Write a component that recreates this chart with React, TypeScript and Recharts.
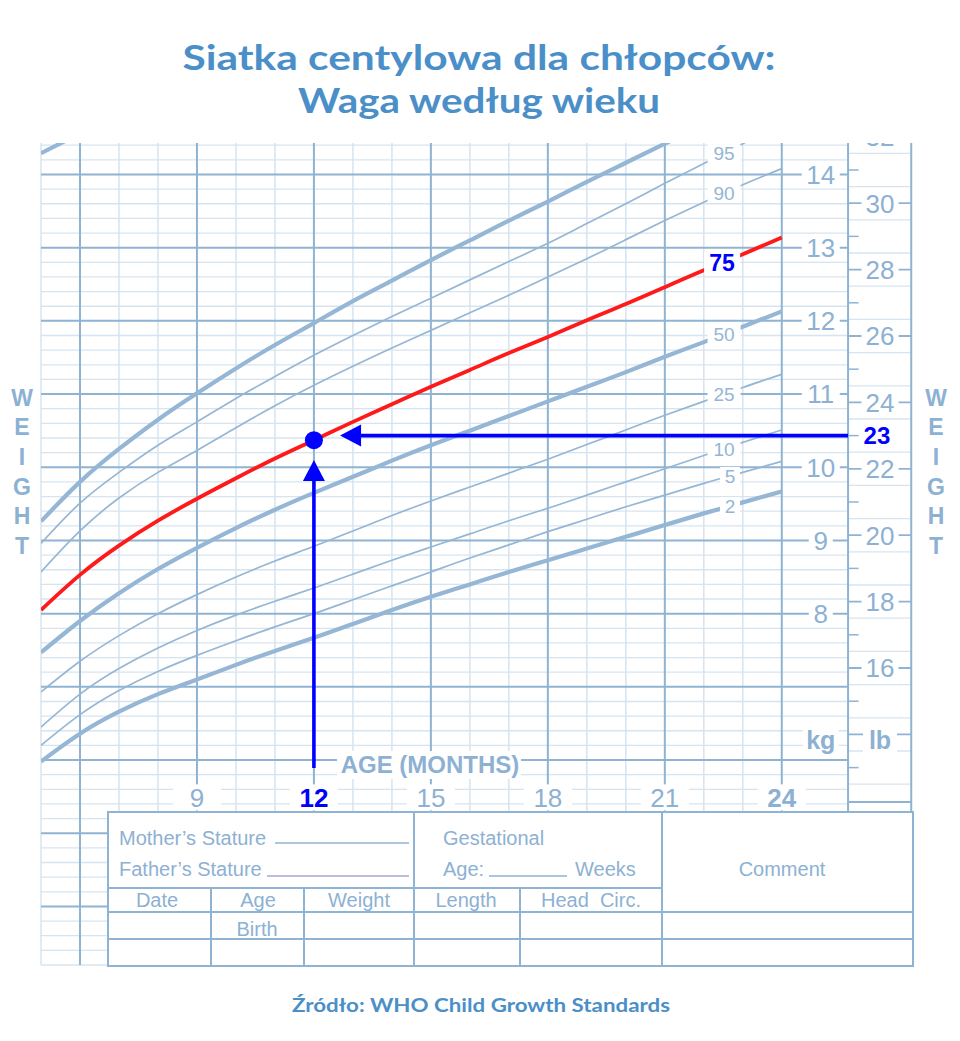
import React from 'react';
import { ComposedChart, Line, XAxis, YAxis, ReferenceLine, ReferenceDot } from 'recharts';

// ---------- data (kg) ----------
const months = [5, 6, 7, 8, 9, 10, 11, 12, 13, 14, 15, 16, 17, 18, 19, 20, 21, 22, 23, 24];
const p98 = [9.26, 9.8, 10.25, 10.65, 11.01, 11.35, 11.67, 11.97, 12.27, 12.55, 12.83, 13.1, 13.37, 13.63, 13.9, 14.16, 14.42, 14.68, 14.94, 15.2];
const p95 = [8.96, 9.51, 9.93, 10.3, 10.62, 10.94, 11.24, 11.53, 11.8, 12.06, 12.31, 12.56, 12.81, 13.06, 13.33, 13.6, 13.88, 14.15, 14.42, 14.69];
const p90 = [8.57, 9.13, 9.58, 9.93, 10.23, 10.54, 10.84, 11.12, 11.38, 11.63, 11.87, 12.11, 12.35, 12.6, 12.85, 13.11, 13.37, 13.62, 13.86, 14.08];
const p75 = [8.05, 8.53, 8.93, 9.27, 9.57, 9.85, 10.12, 10.37, 10.62, 10.86, 11.1, 11.33, 11.56, 11.78, 12.01, 12.23, 12.46, 12.69, 12.91, 13.14];
const p50 = [7.47, 7.9, 8.28, 8.61, 8.9, 9.17, 9.42, 9.65, 9.87, 10.09, 10.3, 10.5, 10.7, 10.9, 11.1, 11.3, 11.51, 11.71, 11.92, 12.13];
const p25 = [6.93, 7.35, 7.7, 8.0, 8.26, 8.5, 8.72, 8.92, 9.13, 9.34, 9.54, 9.73, 9.92, 10.11, 10.31, 10.51, 10.71, 10.9, 11.09, 11.27];
const p10 = [6.45, 6.9, 7.25, 7.53, 7.77, 7.98, 8.17, 8.35, 8.54, 8.73, 8.91, 9.09, 9.27, 9.44, 9.62, 9.8, 9.98, 10.16, 10.34, 10.51];
const p5 = [6.2, 6.62, 6.95, 7.21, 7.43, 7.63, 7.82, 8.0, 8.19, 8.38, 8.57, 8.76, 8.94, 9.12, 9.29, 9.46, 9.62, 9.78, 9.93, 10.08];
const p2 = [5.98, 6.36, 6.66, 6.9, 7.1, 7.3, 7.49, 7.67, 7.86, 8.05, 8.23, 8.4, 8.57, 8.73, 8.89, 9.05, 9.21, 9.37, 9.52, 9.67];
// fragment of the length curve visible in the top-left corner
const fragKg = [14.29, 14.56];

// measurement marked on the chart
const markAge = 12;
const markKg = 10.37;
const markLb = 23;

// tick labels
const xTickLabels = [9, 12, 15, 18, 21, 24];
const kgTickLabels = [8, 9, 10, 11, 12, 13, 14];
const lbTickLabels = [16, 18, 20, 22, 24, 26, 28, 30, 32];

// ---------- layout constants ----------
const X_MIN = 5;
const X_MAX = 27.34;
const Y_MIN = 3.2;
const Y_MAX = 14.43;
const X_LB = 25.7; // lb axis line
const X_KG_LABEL = 25.0;
const X_LB_LABEL = 26.52;
const Y_XLABEL = 5.49;
const Y_LB_BOTTOM = 5.426;
const Y_TABLE_TOP = 5.29;
const LB = 0.45359237;

const GRID_MAJOR = '#8fb3d2';
const GRID_MINOR = '#d6e4f0';
const CURVE = '#95b6d4';
const TEXT = '#8db1d3';
const TITLE = '#4b8fc8';
const BLUE = '#0000ff';
const RED = '#ff1a1a';
const SANS = '"Liberation Sans", Arial, Helvetica, sans-serif';
const ROUND = 'Lato, "Open Sans", sans-serif';

const data = months.map((m, i) => ({
  month: m,
  p98: p98[i], p95: p95[i], p90: p90[i], p75: p75[i], p50: p50[i],
  p25: p25[i], p10: p10[i], p5: p5[i], p2: p2[i],
  frag: i < fragKg.length ? fragKg[i] : undefined,
}));

// grid positions
const kgMajor: number[] = [];
for (let k = 4; k <= 14; k++) kgMajor.push(k);
const kgMinor: number[] = [];
for (let i = 16; i <= 72; i++) if (i % 5 !== 0) kgMinor.push(Math.round(i * 2) / 10);
const monthAll: number[] = [];
for (let m = 5; m <= 24; m++) monthAll.push(m);
const monthMajor = monthAll.filter((m) => m % 3 === 0);
const monthMinor = monthAll.filter((m) => m % 3 !== 0);
const lbHalf: number[] = [];
for (let v = 12.5; v <= 31.5; v += 1) lbHalf.push(v);
const lbOdd: number[] = [];
for (let v = 13; v <= 31; v += 2) lbOdd.push(v);
const lbEven: number[] = [];
for (let v = 14; v <= 30; v += 2) lbEven.push(v);

const valAt = (arr: number[], m: number) => {
  const i = Math.floor(m - months[0]);
  const f = m - months[0] - i;
  return arr[i] + (arr[i + 1] - arr[i]) * f;
};

const pctLabels = [
  { arr: p95, t: '95', m: 22.52 },
  { arr: p90, t: '90', m: 22.52 },
  { arr: p75, t: '75', m: 22.47, hi: true },
  { arr: p50, t: '50', m: 22.52 },
  { arr: p25, t: '25', m: 22.52 },
  { arr: p10, t: '10', m: 22.52 },
  { arr: p5, t: '5', m: 22.67 },
  { arr: p2, t: '2', m: 22.67 },
];

type BoxOpts = { w: number; h: number; fs: number; bold?: boolean; color: string };
const boxLabel = (text: string, o: BoxOpts) => (p: any) => (
  <g>
    <rect x={p.cx - o.w / 2} y={p.cy - o.h / 2} width={o.w} height={o.h} fill="#fff" />
    <text
      x={p.cx}
      y={p.cy}
      dy={o.fs * 0.36}
      textAnchor="middle"
      fontSize={o.fs}
      fontFamily={SANS}
      fontWeight={o.bold ? 700 : 400}
      fill={o.color}
    >
      {text}
    </text>
  </g>
);

const upArrow = (p: any) => (
  <polygon points={`${p.cx},${p.cy} ${p.cx - 11},${p.cy + 21} ${p.cx + 11},${p.cy + 21}`} fill={BLUE} />
);
const leftArrow = (p: any) => (
  <polygon points={`${p.cx},${p.cy} ${p.cx + 21},${p.cy - 11} ${p.cx + 21},${p.cy + 11}`} fill={BLUE} />
);
const blueDot = (p: any) => <circle cx={p.cx} cy={p.cy} r={9} fill={BLUE} />;

const seg = (x1: number, y1: number, x2: number, y2: number) => [
  { x: x1, y: y1 },
  { x: x2, y: y2 },
];

const weight = ['W', 'E', 'I', 'G', 'H', 'T'];
const weightY = [398, 427, 457, 487, 516, 546];

export default function App() {
  const gridZ = { zIndex: -50 } as any;
  const topZ = { zIndex: 2100 } as any;
  const lineCommon = { dot: false, activeDot: false, isAnimationActive: false, stroke: CURVE, connectNulls: false } as any;
  return (
    <div style={{ position: 'absolute', left: 0, top: 0, width: 960, height: 1041, background: '#fff', overflow: 'hidden' }}>
      <ComposedChart width={960} height={1041} data={data} margin={{ top: 143, right: 48, bottom: 76, left: 41 }}>
        <XAxis dataKey="month" type="number" domain={[X_MIN, X_MAX]} hide allowDataOverflow />
        <YAxis type="number" domain={[Y_MIN, Y_MAX]} hide allowDataOverflow />

        {/* minor kg grid */}
        {kgMinor.map((k) => (
          <ReferenceLine key={'hm' + k} segment={seg(X_MIN, k, X_LB, k)} stroke={GRID_MINOR} strokeWidth={1.3} {...gridZ} />
        ))}
        {/* minor month grid */}
        {monthMinor.map((m) => (
          <ReferenceLine key={'vm' + m} segment={seg(m, Y_MIN, m, Y_MAX)} stroke={GRID_MINOR} strokeWidth={1.5} {...gridZ} />
        ))}
        {/* lb column grid */}
        {lbHalf.map((v) => (
          <ReferenceLine key={'lh' + v} segment={seg(X_LB, v * LB, X_MAX, v * LB)} stroke={GRID_MINOR} strokeWidth={1.3} {...gridZ} />
        ))}
        {lbOdd.map((v) => (
          <ReferenceLine key={'lo' + v} segment={seg(X_LB, v * LB, X_LB + 0.27, v * LB)} stroke={GRID_MAJOR} strokeWidth={1.5} {...gridZ} />
        ))}
        {lbEven.map((v) => (
          <ReferenceLine key={'le' + v} segment={seg(X_LB, v * LB, X_MAX, v * LB)} stroke={GRID_MAJOR} strokeWidth={1.8} {...gridZ} />
        ))}
        {/* major kg grid */}
        {kgMajor.map((k) => (
          <ReferenceLine key={'hM' + k} segment={seg(X_MIN, k, X_LB, k)} stroke={GRID_MAJOR} strokeWidth={2} {...gridZ} />
        ))}
        {/* major month grid */}
        {monthMajor.map((m) => (
          <ReferenceLine key={'vM' + m} segment={seg(m, Y_MIN, m, Y_MAX)} stroke={GRID_MAJOR} strokeWidth={2} {...gridZ} />
        ))}
        {/* lb axis frame */}
        <ReferenceLine segment={seg(X_LB, Y_TABLE_TOP, X_LB, Y_MAX)} stroke={GRID_MAJOR} strokeWidth={2} {...gridZ} />
        <ReferenceLine segment={seg(X_MAX - 0.02, Y_TABLE_TOP, X_MAX - 0.02, Y_MAX)} stroke={GRID_MAJOR} strokeWidth={2} {...gridZ} />
        <ReferenceLine segment={seg(X_LB, Y_LB_BOTTOM, X_MAX, Y_LB_BOTTOM)} stroke={GRID_MAJOR} strokeWidth={2} {...gridZ} />

        {/* percentile curves */}
        <Line dataKey="frag" type="natural" strokeWidth={4.2} {...lineCommon} />
        <Line dataKey="p98" type="natural" strokeWidth={4.2} {...lineCommon} />
        <Line dataKey="p95" type="natural" strokeWidth={1.7} {...lineCommon} />
        <Line dataKey="p90" type="natural" strokeWidth={1.7} {...lineCommon} />
        <Line dataKey="p50" type="natural" strokeWidth={4.2} {...lineCommon} />
        <Line dataKey="p25" type="natural" strokeWidth={1.7} {...lineCommon} />
        <Line dataKey="p10" type="natural" strokeWidth={1.7} {...lineCommon} />
        <Line dataKey="p5" type="natural" strokeWidth={1.7} {...lineCommon} />
        <Line dataKey="p2" type="natural" strokeWidth={4.2} {...lineCommon} />
        <Line dataKey="p75" type="natural" strokeWidth={3.8} {...lineCommon} stroke={RED} />

        {/* percentile labels */}
        {pctLabels.map((l) => (
          <ReferenceDot
            key={'pl' + l.t}
            x={l.m}
            y={valAt(l.arr, l.m)}
            ifOverflow="visible"
            shape={boxLabel(
              l.t,
              l.hi
                ? { w: 36, h: 22, fs: 23, bold: true, color: BLUE }
                : { w: l.t.length > 1 ? 33 : 20, h: 18, fs: 19, color: CURVE }
            )}
            {...topZ}
          />
        ))}

        {/* kg tick labels */}
        {kgTickLabels.map((k) => (
          <ReferenceDot key={'kl' + k} x={X_KG_LABEL} y={k} ifOverflow="visible"
            shape={boxLabel(String(k), { w: k >= 10 ? 38 : 24, h: 22, fs: 26, color: TEXT })} {...topZ} />
        ))}
        <ReferenceDot x={X_KG_LABEL} y={6.27} ifOverflow="visible"
          shape={boxLabel('kg', { w: 36, h: 24, fs: 25, bold: true, color: TEXT })} {...topZ} />
        {/* lb tick labels */}
        {lbTickLabels.map((v) => (
          <ReferenceDot key={'ll' + v} x={X_LB_LABEL} y={v * LB} ifOverflow="visible"
            shape={boxLabel(String(v), { w: 37, h: 22, fs: 26, color: TEXT })} {...topZ} />
        ))}
        <ReferenceDot x={X_LB_LABEL} y={6.27} ifOverflow="visible"
          shape={boxLabel('lb', { w: 34, h: 24, fs: 25, bold: true, color: TEXT })} {...topZ} />
        {/* age tick labels */}
        {xTickLabels.map((m) => (
          <ReferenceDot key={'xl' + m} x={m} y={Y_XLABEL} ifOverflow="visible"
            shape={boxLabel(String(m), {
              w: 48, h: 26, fs: 26,
              bold: m === markAge || m === 24,
              color: m === markAge ? BLUE : TEXT,
            })} {...topZ} />
        ))}

        {/* reading arrows */}
        <ReferenceLine segment={seg(markAge, 5.89, markAge, 9.86)} stroke={BLUE} strokeWidth={3.6} {...topZ} />
        <ReferenceDot x={markAge} y={10.1} ifOverflow="visible" shape={upArrow} {...topZ} />
        <ReferenceLine segment={seg(13.15, markLb * LB, X_LB, markLb * LB)} stroke={BLUE} strokeWidth={3.6} {...topZ} />
        <ReferenceDot x={12.67} y={markLb * LB} ifOverflow="visible" shape={leftArrow} {...topZ} />
        <ReferenceDot x={markAge} y={markKg} ifOverflow="visible" shape={blueDot} {...topZ} />
        <ReferenceDot x={X_LB_LABEL - 0.08} y={markLb * LB} ifOverflow="visible"
          shape={boxLabel(String(markLb), { w: 34, h: 22, fs: 24, bold: true, color: BLUE })} {...topZ} />
      </ComposedChart>

      <svg width={960} height={1041} style={{ position: 'absolute', left: 0, top: 0, pointerEvents: 'none' }}>
        <rect x={0} y={0} width={960} height={143} fill="#fff" />
        <text x={479} y={70} textAnchor="middle" fontFamily={ROUND} fontWeight={700} fontSize={34} fill={TITLE}
          textLength={593} lengthAdjust="spacingAndGlyphs">Siatka centylowa dla chłopców:</text>
        <text x={479} y={113} textAnchor="middle" fontFamily={ROUND} fontWeight={700} fontSize={34} fill={TITLE}
          textLength={362} lengthAdjust="spacingAndGlyphs">Waga według wieku</text>

        {weight.map((c, i) => (
          <g key={c + i}>
            <text x={22} y={weightY[i] + 8} textAnchor="middle" fontFamily={SANS} fontWeight={700} fontSize={23} fill={TEXT}>{c}</text>
            <text x={936} y={weightY[i] + 8} textAnchor="middle" fontFamily={SANS} fontWeight={700} fontSize={23} fill={TEXT}>{c}</text>
          </g>
        ))}

        <rect x={337} y={751} width={184} height={28} fill="#fff" />
        <text x={430} y={773} textAnchor="middle" fontFamily={SANS} fontWeight={700} fontSize={24} fill={TEXT}>AGE (MONTHS)</text>

        {/* form table */}
        <g stroke={GRID_MAJOR} strokeWidth={2} fill="none">
          <rect x={108} y={812} width={805} height={154} fill="#fff" />
          <line x1={108} y1={888} x2={662} y2={888} />
          <line x1={108} y1={912} x2={913} y2={912} />
          <line x1={108} y1={939} x2={913} y2={939} />
          <line x1={211} y1={888} x2={211} y2={966} />
          <line x1={304} y1={888} x2={304} y2={966} />
          <line x1={414} y1={812} x2={414} y2={966} />
          <line x1={520} y1={888} x2={520} y2={966} />
          <line x1={662} y1={812} x2={662} y2={966} />
          <line x1={275} y1={843} x2={409} y2={843} strokeWidth={1.3} />
          <line x1={267} y1={876} x2={409} y2={876} strokeWidth={1.3} stroke="#a9a6cf" />
          <line x1={489} y1={876} x2={567} y2={876} strokeWidth={1.3} />
        </g>
        <g fontFamily={SANS} fontSize={20} fill={TEXT}>
          <text x={119} y={845}>Mother’s Stature</text>
          <text x={119} y={876}>Father’s Stature</text>
          <text x={443} y={845}>Gestational</text>
          <text x={443} y={876}>Age:</text>
          <text x={575} y={876}>Weeks</text>
          <text x={782} y={876} textAnchor="middle">Comment</text>
          <text x={157} y={907} textAnchor="middle">Date</text>
          <text x={258} y={907} textAnchor="middle">Age</text>
          <text x={359} y={907} textAnchor="middle">Weight</text>
          <text x={466} y={907} textAnchor="middle">Length</text>
          <text x={591} y={907} textAnchor="middle" style={{ whiteSpace: 'pre' }}>Head  Circ.</text>
          <text x={257} y={936} textAnchor="middle">Birth</text>
        </g>

        <text x={481} y={1012} textAnchor="middle" fontFamily={ROUND} fontWeight={700} fontSize={18} fill={TITLE}
          textLength={378} lengthAdjust="spacingAndGlyphs">Źródło: WHO Child Growth Standards</text>
      </svg>
    </div>
  );
}
